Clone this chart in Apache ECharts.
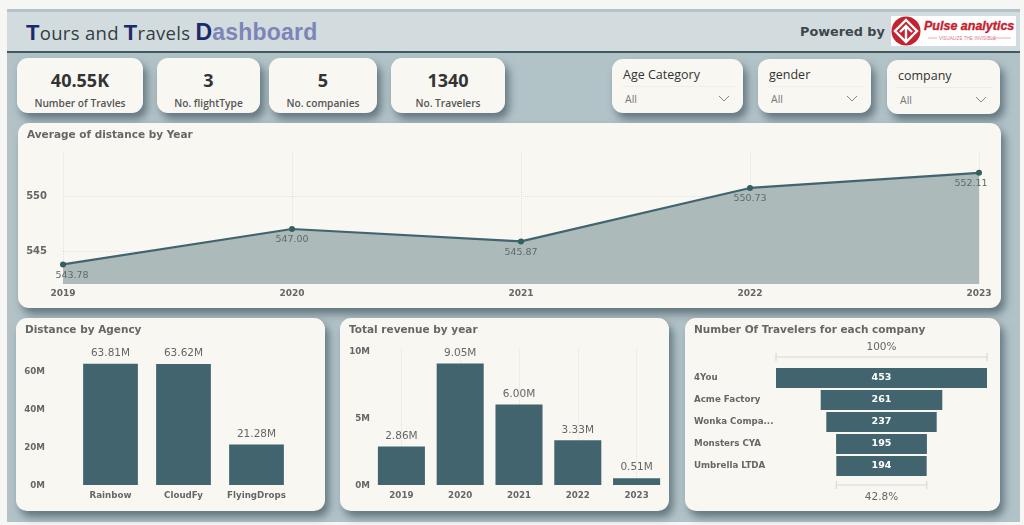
<!DOCTYPE html>
<html>
<head>
<meta charset="utf-8">
<title>Tours and Travels Dashboard</title>
<script src="https://cdn.jsdelivr.net/npm/echarts@6/dist/echarts.min.js"></script>
<style>
html, body { margin: 0; padding: 0; width: 1024px; height: 525px; overflow: hidden; background: #f6f6f4; }
body { position: relative; font-family: "Open Sans", "Noto Sans", sans-serif; }
#board { position: absolute; left: 7px; top: 9px; width: 1013px; height: 513px; background: #b2c3c8; }
#head { position: absolute; left: 7px; top: 12px; width: 1013px; height: 39px; background: #d2dcdf; border-bottom: 2px solid #3f5a60; }
#head .title { position: absolute; left: 19px; top: 4px; font-size: 18.5px; line-height: 32px; color: #333d44; white-space: nowrap; letter-spacing: .3px; }
#head .title b { color: #1b2a6b; font-size: 22px; font-family: "Liberation Sans", sans-serif; }
#head .title .dash { font-family: "Liberation Sans", sans-serif; font-weight: bold; font-size: 23px; color: #7d84b8; letter-spacing: .2px; }
#head .title .dash b { font-size: 23px; }
#powered { position: absolute; left: 800px; top: 24px; font-size: 12.8px; font-weight: 600; font-family: "DejaVu Sans", sans-serif; color: #3d474c; white-space: nowrap; }
#logo { position: absolute; left: 891px; top: 16px; width: 125px; height: 30px; background: #fff; }
.card { position: absolute; background: #f9f7f2; border-radius: 11px; box-shadow: 4px 6px 9px rgba(62, 84, 92, .7); }
.kpi { text-align: center; }
.kpi .val { position: absolute; left: 0; right: 0; top: 9px; font-size: 18px; line-height: 26px; font-weight: 700; color: #333; }
.kpi .cap { position: absolute; left: 0; right: 0; top: 37px; font-size: 10.2px; line-height: 16px; font-weight: 600; color: #555; }
.slicer .lab { position: absolute; left: 11px; top: 7px; font-size: 12.5px; line-height: 18px; color: #333; }
.slicer .all { position: absolute; left: 13px; top: 33px; font-size: 10.5px; line-height: 14px; color: #777; }
.slicer .rule { position: absolute; left: 10px; right: 8px; top: 27px; border-top: 1px solid #f0eeea; }
.slicer svg { position: absolute; right: 13px; top: 36px; }
.chart { position: absolute; }
</style>
</head>
<body>
<div id="board"></div>
<div id="head">
  <div class="title"><b>T</b>ours and <b>T</b>ravels <span class="dash"><b>D</b>ashboard</span></div>
</div>
<div id="powered">Powered by</div>
<div id="logo">
  <svg width="125" height="30" viewBox="0 0 125 30">
    <circle cx="15" cy="15" r="14.5" fill="#c4222e"/>
    <path d="M15 4 L26 15 L15 26 L4 15 Z" fill="none" stroke="#fff" stroke-width="2.4"/>
    <path d="M15 26 L15 10 M9 16 L15 10 L21 16" fill="none" stroke="#fff" stroke-width="2.4"/>
    <text x="33" y="14" font-family="Liberation Sans" font-weight="bold" font-style="italic" font-size="12.5" fill="#c4222e" stroke="#c4222e" stroke-width=".35">Pulse analytics</text>
    <text x="48" y="23.5" font-family="Liberation Sans" font-size="4.6" fill="#d77a88">VISUALIZE THE INVISIBLE</text>
    <path d="M37 22 H46 M101 22 H120" stroke="#d77a88" stroke-width=".6"/>
  </svg>
</div>
<div id="cards"></div>
<div class="card" style="left:18px;top:123px;width:983px;height:185px"><div id="lineChart" class="chart" style="left:0;top:0;width:983px;height:185px"></div></div>
<div class="card" style="left:16px;top:318px;width:309px;height:193px"><div id="agencyChart" class="chart" style="left:0;top:0;width:309px;height:193px"></div></div>
<div class="card" style="left:340px;top:318px;width:329px;height:193px"><div id="revenueChart" class="chart" style="left:0;top:0;width:329px;height:193px"></div></div>
<div class="card" style="left:685px;top:318px;width:315px;height:193px"><div id="funnelChart" class="chart" style="left:0;top:0;width:315px;height:193px"></div></div>

<script>
const kpiValues = ["40.55K", "3", "5", "1340"];
const kpiCaptions = ["Number of Travles", "No. flightType", "No. companies", "No. Travelers"];
const slicerNames = ["Age Category", "gender", "company"];

const years = ["2019", "2020", "2021", "2022", "2023"];
const avgDistance = [543.78, 547.00, 545.87, 550.73, 552.11];
const agencies = ["Rainbow", "CloudFy", "FlyingDrops"];
const agencyDistance = [63.81, 63.62, 21.28];
const revenue = [2.86, 9.05, 6.00, 3.33, 0.51];
const companies = ["4You", "Acme Factory", "Wonka Compa...", "Monsters CYA", "Umbrella LTDA"];
const travelers = [453, 261, 237, 195, 194];

const kpiBoxes = [[17, 58, 126, 55], [157, 58, 103, 55], [269, 58, 108, 55], [391, 58, 114, 55]];
const slicerBoxes = [[612, 59, 131, 54], [758, 59, 113, 54], [887, 60, 113, 54]];

let cardHtml = "";
kpiValues.forEach((v, i) => {
    let b = kpiBoxes[i];
    cardHtml += `<div class="card kpi" style="left:${b[0]}px;top:${b[1]}px;width:${b[2]}px;height:${b[3]}px"><div class="val">${v}</div><div class="cap">${kpiCaptions[i]}</div></div>`;
});
slicerNames.forEach((n, i) => {
    let b = slicerBoxes[i];
    cardHtml += `<div class="card slicer" style="left:${b[0]}px;top:${b[1]}px;width:${b[2]}px;height:${b[3]}px"><div class="lab">${n}</div><div class="rule"></div><div class="all">All</div><svg width="12" height="7"><path d="M1 1 L6 6 L11 1" fill="none" stroke="#888" stroke-width="1"/></svg></div>`;
});
document.getElementById("cards").innerHTML = cardHtml;

const FONT = "DejaVu Sans";
const GREY = "#666";
const TEAL = "#41646f";
const axisText = { color: GREY, fontFamily: FONT, fontSize: 8.7, fontWeight: "bold" };
const dotted = { show: true, alignWithLabel: true, lineStyle: { color: "#e4e2dc", type: "dotted", width: 1 } };
const titleOf = text => ({
    text: text, left: 4, top: 2,
    textStyle: { color: GREY, fontFamily: FONT, fontSize: 10.5, fontWeight: "bold" }
});

// line chart
let lineChart = echarts.init(document.getElementById("lineChart"));
lineChart.setOption({
    animation: false,
    title: titleOf("Average of distance by Year"),
    grid: { left: 45, right: 22, top: 29, bottom: 24, outerBoundsMode: "none" },
    xAxis: {
        type: "category", data: years, boundaryGap: false,
        axisLine: { show: false }, axisTick: { show: false },
        axisLabel: { ...axisText, fontSize: 9, margin: 5, hideOverlap: false },
        splitLine: dotted
    },
    yAxis: {
        type: "value", min: 542, max: 554,
        axisLine: { show: false },
        axisTick: { show: false, customValues: [545, 550] },
        axisLabel: { color: GREY, fontFamily: FONT, fontSize: 10, fontWeight: "bold", margin: 16, customValues: [545, 550] },
        splitLine: dotted
    },
    series: [{
        type: "line",
        data: avgDistance.map((v, i) => ({
            value: v,
            label: { offset: i === 0 ? [9, 0] : (i === avgDistance.length - 1 ? [-8, 0] : [0, 0]) }
        })),
        symbol: "circle", symbolSize: 6,
        itemStyle: { color: "#33605f" },
        lineStyle: { color: TEAL, width: 2.2 },
        areaStyle: { color: "#adbaba", opacity: 1 },
        label: {
            show: true, position: "bottom", distance: 3,
            formatter: p => p.value.toFixed(2),
            color: "#5f6a6b", fontFamily: FONT, fontSize: 9.5
        }
    }]
});

// bar charts share the same look
function barOption(title, cats, values, grid, yMax, yTicks, yMargin, vertical) {
    return {
        animation: false,
        title: titleOf(title),
        grid: { ...grid, outerBoundsMode: "none" },
        xAxis: {
            type: "category", data: cats,
            axisLine: { show: false },
            axisTick: { show: false },
            axisLabel: { ...axisText, margin: 6, interval: 0 },
            splitLine: vertical ? dotted : { show: false }
        },
        yAxis: {
            type: "value", min: 0, max: yMax,
            axisLine: { show: false },
            axisTick: { show: false, customValues: yTicks },
            axisLabel: { ...axisText, margin: yMargin, verticalAlign: "top", lineHeight: 2, customValues: yTicks, formatter: v => v + "M" },
            splitLine: { show: false }
        },
        series: [{
            type: "bar", data: values, barCategoryGap: "20%",
            itemStyle: { color: TEAL },
            label: {
                show: true, position: "top", distance: 5,
                formatter: p => p.value.toFixed(2) + "M",
                color: GREY, fontFamily: FONT, fontSize: 10.5
            }
        }]
    };
}

let agencyChart = echarts.init(document.getElementById("agencyChart"));
let agencyOpt = barOption("Distance by Agency", agencies, agencyDistance,
    { left: 58, right: 32, top: 15, bottom: 26 }, 80, [0, 20, 40, 60], 29, false);
agencyOpt.series[0].barCategoryGap = "25%";
agencyChart.setOption(agencyOpt);

let revenueChart = echarts.init(document.getElementById("revenueChart"));
let revenueOpt = barOption("Total revenue by year", years, revenue,
    { left: 32, right: 3, top: 30, bottom: 26 }, 10.2, [0, 5, 10], 2, true);
revenueChart.setOption(revenueOpt);

// funnel: centred bars on a stacked spacer
const maxTravelers = Math.max(...travelers);
let funnelChart = echarts.init(document.getElementById("funnelChart"));
funnelChart.setOption({
    animation: false,
    title: titleOf("Number Of Travelers for each company"),
    grid: { left: 91, right: 13, top: 49, bottom: 34, outerBoundsMode: "none" },
    xAxis: { type: "value", min: 0, max: maxTravelers, show: false },
    yAxis: {
        type: "category", data: companies, inverse: true,
        axisLine: { show: false }, axisTick: { show: false },
        axisLabel: { ...axisText, align: "left", margin: 82, interval: 0 }
    },
    series: [{
        type: "bar", stack: "funnel", silent: true,
        data: travelers.map(v => (maxTravelers - v) / 2),
        itemStyle: { color: "transparent" }
    }, {
        type: "bar", stack: "funnel", barCategoryGap: "9%",
        data: travelers,
        itemStyle: { color: TEAL },
        label: {
            show: true, position: "inside",
            color: "#fff", fontFamily: FONT, fontSize: 9.5, fontWeight: "bold"
        }
    }]
});

// range brackets above and below the funnel, placed with the chart's own scale
function bracket(v, y, textY, text) {
    let x0 = funnelChart.convertToPixel({ gridIndex: 0 }, [(maxTravelers - v) / 2, 0])[0];
    let x1 = funnelChart.convertToPixel({ gridIndex: 0 }, [(maxTravelers + v) / 2, 0])[0];
    let line = { stroke: "#dcd9d2", lineWidth: 1.2 };
    return [
        { type: "line", shape: { x1: x0, y1: y, x2: x1, y2: y }, style: line },
        { type: "line", shape: { x1: x0, y1: y - 4, x2: x0, y2: y + 4 }, style: line },
        { type: "line", shape: { x1: x1, y1: y - 4, x2: x1, y2: y + 4 }, style: line },
        {
            type: "text", x: (x0 + x1) / 2, y: textY,
            style: { text: text, align: "center", verticalAlign: "middle", fill: GREY, font: "10.5px '" + FONT + "'" }
        }
    ];
}
const last = travelers[travelers.length - 1];
funnelChart.setOption({
    graphic: [
        ...bracket(maxTravelers, 39, 29, "100%"),
        ...bracket(last, 167, 179, (last / maxTravelers * 100).toFixed(1) + "%")
    ]
});
</script>
</body>
</html>
